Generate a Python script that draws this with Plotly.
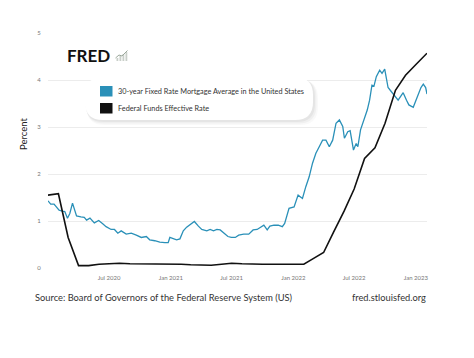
import plotly.graph_objects as go

# ---------------- data ----------------
mortgage_dates = [
    "2020-01-01", "2020-01-09", "2020-01-19", "2020-02-03", "2020-02-13", "2020-02-20",
    "2020-02-28", "2020-03-06", "2020-03-14", "2020-03-26", "2020-04-08", "2020-04-18",
    "2020-04-25", "2020-05-05", "2020-05-18", "2020-05-31", "2020-06-12", "2020-06-22",
    "2020-07-07", "2020-07-17", "2020-07-27", "2020-08-06", "2020-08-21", "2020-09-05",
    "2020-09-20", "2020-10-05", "2020-10-20", "2020-10-30", "2020-11-14", "2020-11-29",
    "2020-12-14", "2020-12-24", "2020-12-29", "2021-01-08", "2021-01-18", "2021-01-28",
    "2021-02-07", "2021-02-17", "2021-03-01", "2021-03-12", "2021-03-24", "2021-04-03",
    "2021-04-18", "2021-04-28", "2021-05-08", "2021-05-18", "2021-05-28", "2021-06-07",
    "2021-06-20", "2021-06-30", "2021-07-12", "2021-07-22", "2021-08-06", "2021-08-21",
    "2021-09-03", "2021-09-15", "2021-09-25", "2021-10-05", "2021-10-15", "2021-10-23",
    "2021-11-04", "2021-11-17", "2021-11-29", "2021-12-06", "2021-12-19", "2022-01-03",
    "2022-01-15", "2022-01-28", "2022-02-07", "2022-02-17", "2022-02-27", "2022-03-09",
    "2022-03-19", "2022-03-29", "2022-04-08", "2022-04-18", "2022-04-28", "2022-05-08",
    "2022-05-18", "2022-05-28", "2022-06-02", "2022-06-12", "2022-06-19", "2022-06-29",
    "2022-07-07", "2022-07-12", "2022-07-20", "2022-07-30", "2022-08-09", "2022-08-16",
    "2022-08-23", "2022-08-29", "2022-09-05", "2022-09-15", "2022-09-22", "2022-09-30",
    "2022-10-10", "2022-10-20", "2022-10-30", "2022-11-09", "2022-11-19", "2022-11-24",
    "2022-12-04", "2022-12-11", "2022-12-24", "2023-01-03", "2023-01-16", "2023-01-23",
    "2023-01-30", "2023-02-03",
]
mortgage_values = [
    1.43, 1.36, 1.36, 1.23, 1.21, 1.20,
    1.06, 1.16, 1.38, 1.11, 1.09, 1.08,
    1.02, 1.06, 0.96, 1.01, 0.94, 0.88,
    0.82, 0.82, 0.74, 0.79, 0.72, 0.74,
    0.70, 0.65, 0.67, 0.60, 0.58, 0.55,
    0.54, 0.54, 0.65, 0.62, 0.60, 0.62,
    0.79, 0.87, 0.94, 0.99, 0.89, 0.82,
    0.79, 0.82, 0.79, 0.82, 0.81, 0.74,
    0.67, 0.65, 0.65, 0.70, 0.72, 0.72,
    0.81, 0.82, 0.87, 0.91, 0.81, 0.89,
    0.91, 0.91, 0.88, 0.95, 1.27, 1.30,
    1.55, 1.48, 1.73, 1.94, 2.23, 2.44,
    2.58, 2.72, 2.72, 2.58, 2.72, 3.08,
    3.15, 3.01, 2.76, 2.90, 2.92, 2.51,
    2.65, 2.58, 2.94, 3.15, 3.36, 3.57,
    3.89, 3.87, 4.07, 4.21, 4.14, 4.23,
    3.84, 3.75, 3.65, 3.57, 3.68, 3.73,
    3.57, 3.47, 3.42, 3.61, 3.84, 3.91,
    3.84, 3.70,
]

fedfunds_dates = [
    "2020-01-01", "2020-02-01", "2020-03-01", "2020-04-01", "2020-05-01", "2020-06-01",
    "2020-07-01", "2020-08-01", "2020-09-01", "2020-10-01", "2020-11-01", "2020-12-01",
    "2021-01-01", "2021-02-01", "2021-03-01", "2021-04-01", "2021-05-01", "2021-06-01",
    "2021-07-01", "2021-08-01", "2021-09-01", "2021-10-01", "2021-11-01", "2021-12-01",
    "2022-01-01", "2022-02-01", "2022-03-01", "2022-04-01", "2022-05-01", "2022-06-01",
    "2022-07-01", "2022-08-01", "2022-09-01", "2022-10-01", "2022-11-01", "2022-12-01",
    "2023-01-01", "2023-02-03",
]
fedfunds_values = [
    1.55, 1.58, 0.65, 0.05, 0.05, 0.08,
    0.09, 0.10, 0.09, 0.09, 0.09, 0.09,
    0.09, 0.08, 0.07, 0.07, 0.06, 0.08,
    0.10, 0.09, 0.08, 0.08, 0.08, 0.08,
    0.08, 0.08, 0.20, 0.33, 0.77, 1.21,
    1.68, 2.33, 2.56, 3.08, 3.78, 4.10,
    4.33, 4.57,
]

series_names = [
    "30-year Fixed Rate Mortgage Average in the United States",
    "Federal Funds Effective Rate",
]
series_colors = ["#2a90b8", "#111111"]

x_tick_vals = ["2020-07-01", "2021-01-01", "2021-07-01", "2022-01-01", "2022-07-01", "2023-01-01"]
x_tick_text = ["Jul 2020", "Jan 2021", "Jul 2021", "Jan 2022", "Jul 2022", "Jan 2023"]
y_tick_vals = [0, 1, 2, 3, 4, 5]

# ---------------- layout geometry (screen pixels) ----------------
OFF = 8                       # default page body margin
W, H = 474 - OFF, 358 - OFF   # figure size so the page does not scroll
L, R, T, B = 48, 427, 33, 268  # plot area in screen pixels
PW, PH = R - L, B - T


def px(x):
    return (x - L) / PW


def py(y):
    return (B - y) / PH


def rounded_rect(x0, y0, x1, y1, r):
    rx = r / PW
    ry = r / PH
    X0, X1 = px(x0), px(x1)
    Y0, Y1 = py(y0), py(y1)
    return (
        f"M{X0 + rx},{Y0} L{X1 - rx},{Y0} Q{X1},{Y0} {X1},{Y0 - ry} "
        f"L{X1},{Y1 + ry} Q{X1},{Y1} {X1 - rx},{Y1} "
        f"L{X0 + rx},{Y1} Q{X0},{Y1} {X0},{Y1 + ry} "
        f"L{X0},{Y0 - ry} Q{X0},{Y0} {X0 + rx},{Y0} Z"
    )


fig = go.Figure()
fig.add_trace(go.Scatter(
    x=mortgage_dates, y=mortgage_values, mode="lines", name=series_names[0],
    line=dict(color=series_colors[0], width=1.3), showlegend=False,
))
fig.add_trace(go.Scatter(
    x=fedfunds_dates, y=fedfunds_values, mode="lines", name=series_names[1],
    line=dict(color=series_colors[1], width=1.6), showlegend=False,
))

shapes = []
for off, alpha in [(5, 0.025), (3.5, 0.035), (2, 0.045)]:
    shapes.append(dict(type="path", xref="paper", yref="paper",
                       path=rounded_rect(85 + off * 0.3, 77 + off * 0.6, 313 + off, 120 + off, 18),
                       fillcolor=f"rgba(0,0,0,{alpha})", line=dict(width=0), layer="above"))
shapes.append(dict(type="path", xref="paper", yref="paper",
                   path=rounded_rect(85, 77, 313, 120, 18),
                   fillcolor="white", line=dict(width=0), layer="above"))
for (y0, y1), c in zip([(86, 96.5), (103, 113.5)], series_colors):
    shapes.append(dict(type="rect", xref="paper", yref="paper",
                       x0=px(100), x1=px(112.5), y0=py(y1), y1=py(y0),
                       fillcolor=c, line=dict(width=0), layer="above"))
icon_bars = [(116.5, 58), (119.5, 56), (122.5, 54), (125.5, 52)]
for bx, top in icon_bars:
    shapes.append(dict(type="rect", xref="paper", yref="paper",
                       x0=px(bx), x1=px(bx + 1.8), y0=py(61), y1=py(top),
                       fillcolor="#c9cfc9", line=dict(width=0), layer="above"))
shapes.append(dict(type="path", xref="paper", yref="paper",
                   path=f"M{px(115.5)},{py(58)} L{px(119)},{py(55)} L{px(122)},{py(56)} L{px(127.5)},{py(50.5)}",
                   line=dict(color="#9aa79a", width=1), layer="above"))

annotations = [
    dict(text="<b>FRED</b>", x=px(65), y=py(55.5), xref="paper", yref="paper",
         xanchor="left", yanchor="middle", showarrow=False,
         font=dict(family="Lato", size=17, color="#111111", weight=900)),
    dict(text=series_names[0], x=px(116), y=py(91.5), xref="paper", yref="paper",
         xanchor="left", yanchor="middle", showarrow=False,
         font=dict(family="Lato", size=7.3, color="#333333")),
    dict(text=series_names[1], x=px(116), y=py(108.5), xref="paper", yref="paper",
         xanchor="left", yanchor="middle", showarrow=False,
         font=dict(family="Lato", size=7.3, color="#333333")),
    dict(text="Percent", x=px(24), y=py(134), xref="paper", yref="paper",
         xanchor="center", yanchor="middle", showarrow=False, textangle=-90,
         font=dict(family="Lato", size=9.5, color="#222222")),
    dict(text="Source: Board of Governors of the Federal Reserve System (US)",
         x=px(33), y=py(297), xref="paper", yref="paper",
         xanchor="left", yanchor="middle", showarrow=False,
         font=dict(family="Lato", size=9.3, color="#333333")),
    dict(text="fred.stlouisfed.org", x=px(428), y=py(297), xref="paper", yref="paper",
         xanchor="right", yanchor="middle", showarrow=False,
         font=dict(family="Lato", size=9.3, color="#333333")),
]

fig.update_layout(
    width=W, height=H,
    margin=dict(l=L - OFF, r=W - (R - OFF), t=T - OFF, b=H - (B - OFF), pad=0),
    paper_bgcolor="white", plot_bgcolor="white",
    shapes=shapes, annotations=annotations,
    showlegend=False,
    xaxis=dict(
        type="date", range=["2020-01-01", "2023-02-03"],
        tickmode="array", tickvals=x_tick_vals, ticktext=x_tick_text,
        showgrid=False, zeroline=False, showline=False,
        ticks="outside", ticklen=4, tickcolor="rgba(0,0,0,0)",
        tickfont=dict(family="Lato", size=6, color="#777777"),
    ),
    yaxis=dict(
        range=[0, 5], tickmode="array", tickvals=y_tick_vals,
        showgrid=True, gridcolor="#ececec", gridwidth=1,
        zeroline=False, showline=False,
        ticks="outside", ticklen=5, tickcolor="rgba(0,0,0,0)",
        tickfont=dict(family="Lato", size=6, color="#777777"),
    ),
)

fig.write_html("out.html")
